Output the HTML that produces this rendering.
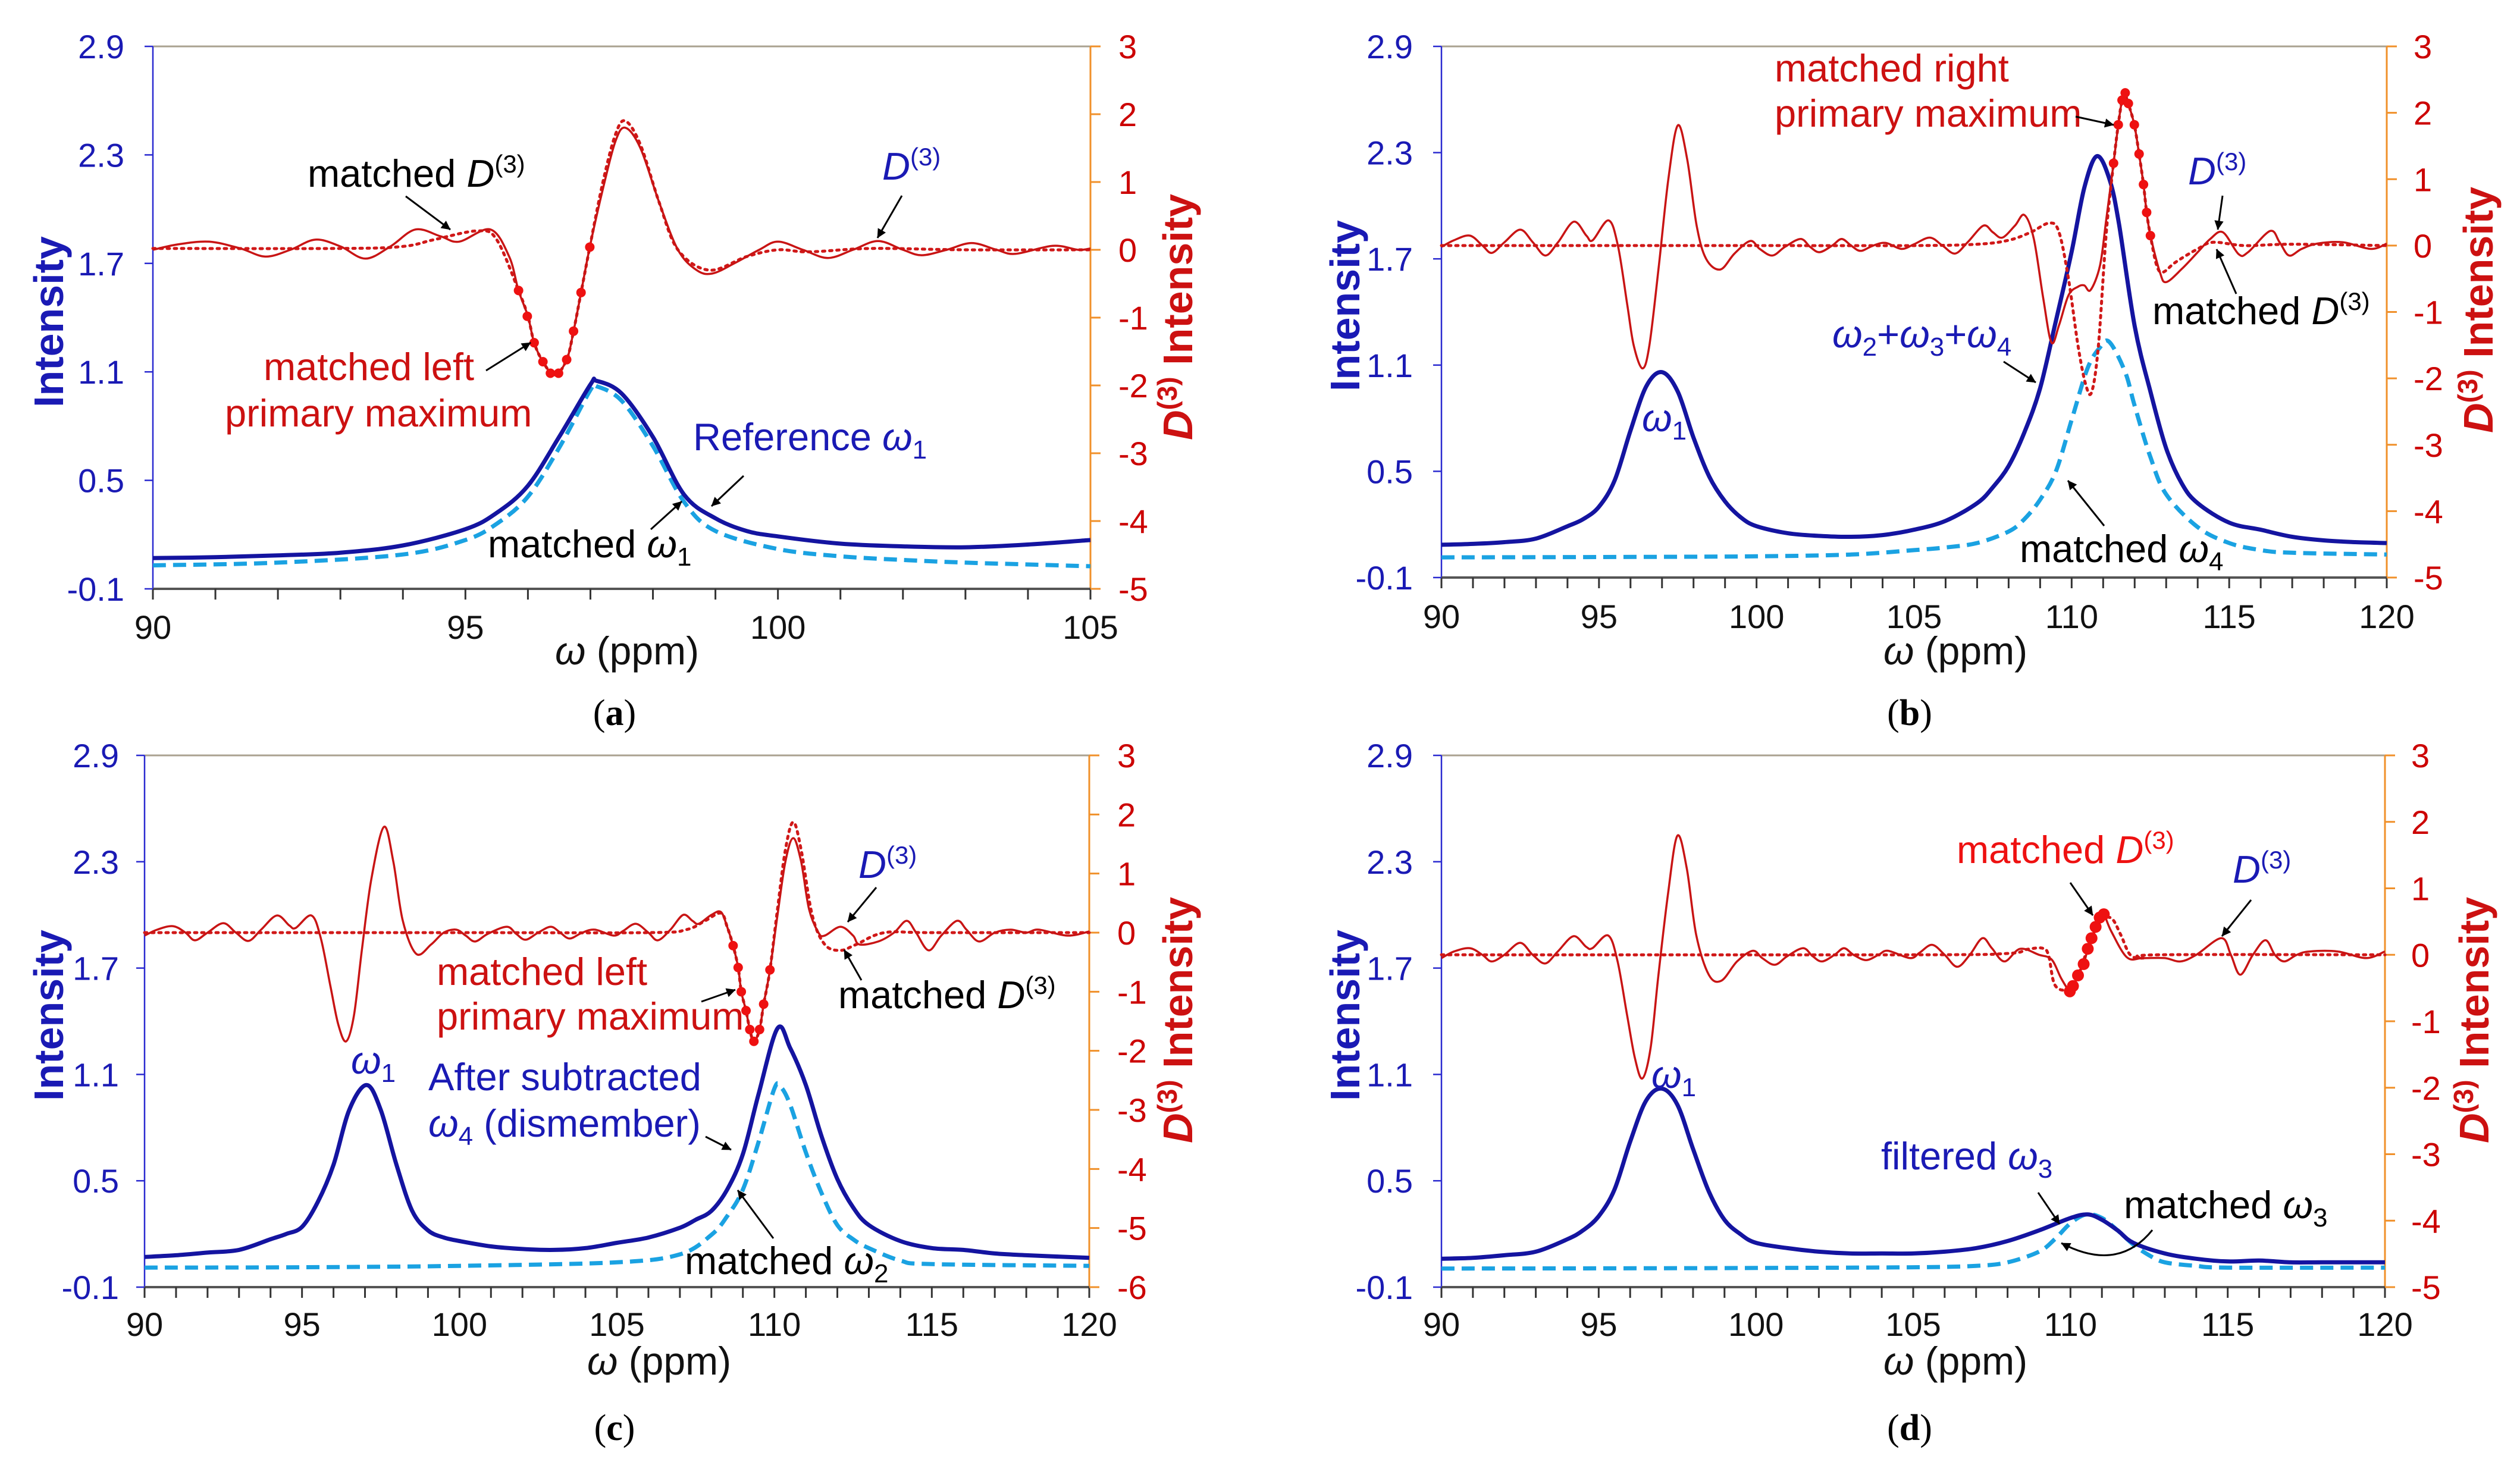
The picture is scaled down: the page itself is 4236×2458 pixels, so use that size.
<!DOCTYPE html>
<html><head><meta charset="utf-8">
<style>
html,body{margin:0;padding:0;background:#fff;}
svg{display:block;font-family:"Liberation Sans",Arial,sans-serif;}
</style></head>
<body>
<svg id="fig" xmlns="http://www.w3.org/2000/svg" width="4236" height="2458" viewBox="0 0 4236 2458">
<defs>
<marker id="arr" viewBox="0 0 10 10" refX="9" refY="5" markerWidth="7" markerHeight="7" orient="auto" markerUnits="userSpaceOnUse" style="overflow:visible">
<path d="M0,0 L10,5 L0,10 z" transform="scale(2.2) translate(-5.5,-2.7)" fill="#000"/>
</marker>
</defs>
<rect width="4236" height="2458" fill="#fff"/>
<g id="layer"></g>

<!-- Panel a annotations -->
<g font-size="65">
<text x="517" y="314" fill="#000">matched <tspan font-style="italic">D</tspan><tspan dy="-24" font-size="42">(3)</tspan></text>
<line x1="682" y1="330" x2="757" y2="386" stroke="#000" stroke-width="3" marker-end="url(#arr)"/>
<text x="1483" y="302" fill="#1a1ab4"><tspan font-style="italic">D</tspan><tspan dy="-24" font-size="42">(3)</tspan></text>
<line x1="1516" y1="329" x2="1475" y2="400" stroke="#000" stroke-width="3" marker-end="url(#arr)"/>
<text x="443" y="639" fill="#cc1111">matched left</text>
<text x="378" y="717" fill="#cc1111">primary maximum</text>
<line x1="817" y1="623" x2="892" y2="576" stroke="#000" stroke-width="3" marker-end="url(#arr)"/>
<text x="1165" y="757" fill="#1a1ab4">Reference <tspan font-style="italic">ω</tspan><tspan dy="14" font-size="44">1</tspan></text>
<line x1="1250" y1="800" x2="1196" y2="851" stroke="#000" stroke-width="3" marker-end="url(#arr)"/>
<text x="820" y="937" fill="#000">matched <tspan font-style="italic">ω</tspan><tspan dy="14" font-size="44">1</tspan></text>
<line x1="1094" y1="890" x2="1146" y2="843" stroke="#000" stroke-width="3" marker-end="url(#arr)"/>
</g>

<!-- Panel b annotations -->
<g font-size="65">
<text x="2983" y="137" fill="#cc1111">matched right</text>
<text x="2983" y="213" fill="#cc1111">primary maximum</text>
<line x1="3489" y1="196" x2="3553" y2="210" stroke="#000" stroke-width="3" marker-end="url(#arr)"/>
<text x="3678" y="310" fill="#1a1ab4"><tspan font-style="italic">D</tspan><tspan dy="-24" font-size="42">(3)</tspan></text>
<line x1="3736" y1="329" x2="3728" y2="386" stroke="#000" stroke-width="3" marker-end="url(#arr)"/>
<text x="3618" y="545" fill="#000">matched <tspan font-style="italic">D</tspan><tspan dy="-24" font-size="42">(3)</tspan></text>
<line x1="3759" y1="494" x2="3726" y2="419" stroke="#000" stroke-width="3" marker-end="url(#arr)"/>
<text x="3080" y="584" fill="#1a1ab4" font-style="italic">ω<tspan dy="14" font-size="44" font-style="normal">2</tspan><tspan dy="-14" font-style="normal">+</tspan>ω<tspan dy="14" font-size="44" font-style="normal">3</tspan><tspan dy="-14" font-style="normal">+</tspan>ω<tspan dy="14" font-size="44" font-style="normal">4</tspan></text>
<line x1="3368" y1="608" x2="3422" y2="643" stroke="#000" stroke-width="3" marker-end="url(#arr)"/>
<text x="2760" y="725" fill="#1a1ab4"><tspan font-style="italic">ω</tspan><tspan dy="14" font-size="44">1</tspan></text>
<text x="3395" y="945" fill="#000">matched <tspan font-style="italic">ω</tspan><tspan dy="14" font-size="44">4</tspan></text>
<line x1="3537" y1="884" x2="3476" y2="808" stroke="#000" stroke-width="3" marker-end="url(#arr)"/>
</g>

<!-- Panel c annotations -->
<g font-size="65">
<text x="590" y="1805" fill="#1a1ab4"><tspan font-style="italic">ω</tspan><tspan dy="14" font-size="44">1</tspan></text>
<text x="720" y="1833" fill="#1a1ab4">After subtracted</text>
<text x="720" y="1911" fill="#1a1ab4"><tspan font-style="italic">ω</tspan><tspan dy="14" font-size="44">4</tspan><tspan dy="-14"> (dismember)</tspan></text>
<line x1="1186" y1="1911" x2="1229" y2="1933" stroke="#000" stroke-width="3" marker-end="url(#arr)"/>
<text x="734" y="1656" fill="#cc1111">matched left</text>
<text x="734" y="1731" fill="#cc1111">primary maximum</text>
<line x1="1179" y1="1684" x2="1236" y2="1664" stroke="#000" stroke-width="3" marker-end="url(#arr)"/>
<text x="1443" y="1476" fill="#1a1ab4"><tspan font-style="italic">D</tspan><tspan dy="-24" font-size="42">(3)</tspan></text>
<line x1="1473" y1="1492" x2="1425" y2="1550" stroke="#000" stroke-width="3" marker-end="url(#arr)"/>
<text x="1409" y="1695" fill="#000">matched <tspan font-style="italic">D</tspan><tspan dy="-24" font-size="42">(3)</tspan></text>
<line x1="1448" y1="1648" x2="1419" y2="1597" stroke="#000" stroke-width="3" marker-end="url(#arr)"/>
<text x="1151" y="2142" fill="#000">matched <tspan font-style="italic">ω</tspan><tspan dy="14" font-size="44">2</tspan></text>
<line x1="1300" y1="2082" x2="1240" y2="2001" stroke="#000" stroke-width="3" marker-end="url(#arr)"/>
</g>

<!-- Panel d annotations -->
<g font-size="65">
<text x="3289" y="1451" fill="#ee1111">matched <tspan font-style="italic">D</tspan><tspan dy="-24" font-size="42">(3)</tspan></text>
<line x1="3480" y1="1484" x2="3518" y2="1539" stroke="#000" stroke-width="3" marker-end="url(#arr)"/>
<text x="3753" y="1484" fill="#1a1ab4"><tspan font-style="italic">D</tspan><tspan dy="-24" font-size="42">(3)</tspan></text>
<line x1="3784" y1="1513" x2="3735" y2="1574" stroke="#000" stroke-width="3" marker-end="url(#arr)"/>
<text x="2776" y="1829" fill="#1a1ab4"><tspan font-style="italic">ω</tspan><tspan dy="14" font-size="44">1</tspan></text>
<text x="3162" y="1966" fill="#1a1ab4">filtered <tspan font-style="italic">ω</tspan><tspan dy="14" font-size="44">3</tspan></text>
<line x1="3426" y1="2005" x2="3462" y2="2058" stroke="#000" stroke-width="3" marker-end="url(#arr)"/>
<text x="3570" y="2048" fill="#000">matched <tspan font-style="italic">ω</tspan><tspan dy="14" font-size="44">3</tspan></text>
<path d="M3618,2068 Q3560,2140 3465,2090" fill="none" stroke="#000" stroke-width="3" marker-end="url(#arr)"/>
</g>
</svg>

<script>
// ---------- DATA (ppm, value) ----------
const xTicksA = [90, 95, 100, 105];
const xTicksBCD = [90, 95, 100, 105, 110, 115, 120];
const leftTicks = [-0.1, 0.5, 1.1, 1.7, 2.3, 2.9];
const rightTicksABD = [3, 2, 1, 0, -1, -2, -3, -4, -5];
const rightTicksC = [3, 2, 1, 0, -1, -2, -3, -4, -5, -6];

// Panel a
const aBlue = [[90,0.07],[91,0.075],[92,0.085],[93,0.1],[94,0.14],[95,0.23],[95.5,0.32],[96,0.47],[96.5,0.74],[97,1.03],[97.1,1.05],[97.5,0.98],[98,0.74],[98.5,0.42],[99,0.29],[99.5,0.22],[100,0.19],[101,0.15],[102,0.135],[103,0.13],[104,0.145],[105,0.17]];
const aCyan = [[90,0.03],[92,0.045],[94,0.09],[95,0.17],[95.5,0.26],[96,0.41],[96.5,0.68],[97,1.0],[97.1,1.02],[97.5,0.94],[98,0.69],[98.5,0.38],[99,0.22],[100,0.12],[101,0.08],[102,0.06],[103,0.045],[104,0.035],[105,0.025]];
const aRed = [[90,0],[90.4,0.08],[90.9,0.12],[91.4,0.02],[91.8,-0.1],[92.2,0.0],[92.6,0.15],[93.0,0.05],[93.4,-0.13],[93.8,0.05],[94.2,0.3],[94.6,0.2],[94.9,0.12],[95.4,0.3],[95.7,-0.1],[95.85,-0.6],[96.0,-0.98],[96.1,-1.37],[96.24,-1.65],[96.43,-1.85],[96.62,-1.62],[96.73,-1.2],[96.85,-0.63],[96.99,0.04],[97.2,0.9],[97.4,1.6],[97.56,1.8],[97.8,1.5],[98.1,0.7],[98.4,0.0],[98.7,-0.3],[98.95,-0.35],[99.3,-0.2],[99.7,0.0],[100.0,0.12],[100.4,0.0],[100.8,-0.12],[101.2,0.0],[101.6,0.13],[102.0,0.0],[102.3,-0.08],[102.7,0.0],[103.1,0.1],[103.5,0.0],[103.8,-0.06],[104.4,0.06],[104.8,0.0],[105,0.02]];
const aDotted = [[90,0.02],[93,0.02],[94,0.05],[94.5,0.15],[95.2,0.28],[95.5,0.15],[95.85,-0.6],[96.0,-0.98],[96.1,-1.37],[96.24,-1.65],[96.43,-1.85],[96.62,-1.62],[96.73,-1.2],[96.85,-0.63],[96.99,0.04],[97.2,1.0],[97.4,1.7],[97.56,1.9],[97.8,1.55],[98.1,0.7],[98.4,0.0],[98.9,-0.3],[99.5,-0.1],[100,0.0],[100.5,-0.03],[101.5,0.02],[103,0],[105,0]];
const aDots = [[95.85,-0.6],[95.99,-0.98],[96.1,-1.37],[96.24,-1.65],[96.36,-1.82],[96.49,-1.82],[96.62,-1.62],[96.73,-1.2],[96.85,-0.63],[96.99,0.04]];

// Panel b
const bBlue = [[90,0.085],[91,0.09],[92,0.1],[93,0.12],[94,0.19],[94.5,0.23],[95,0.3],[95.5,0.45],[96,0.73],[96.5,0.98],[97,1.06],[97.5,0.95],[98,0.69],[98.5,0.47],[99,0.33],[99.5,0.24],[100,0.19],[101,0.15],[102,0.135],[103,0.13],[104,0.14],[105,0.17],[106,0.22],[107,0.32],[107.5,0.41],[108,0.53],[108.5,0.72],[109,0.97],[109.5,1.35],[110,1.74],[110.4,2.1],[110.8,2.28],[111.2,2.15],[111.5,1.9],[112,1.32],[112.5,0.95],[113,0.63],[113.5,0.43],[114,0.32],[115,0.21],[116,0.17],[117,0.13],[118,0.11],[119,0.1],[120,0.095]];
const bCyan = [[90,0.014],[95,0.016],[100,0.02],[103,0.03],[105,0.055],[106,0.07],[107,0.095],[108,0.16],[108.5,0.23],[109,0.34],[109.5,0.5],[110,0.79],[110.5,1.08],[110.9,1.2],[111.2,1.23],[111.7,1.06],[112,0.87],[112.5,0.58],[113,0.37],[114,0.185],[115,0.095],[116,0.055],[117,0.04],[120,0.03]];
const bRed = [[90,-0.02],[90.4,0.08],[90.9,0.15],[91.3,0.0],[91.6,-0.11],[92.0,0.05],[92.5,0.24],[92.9,0.05],[93.3,-0.15],[93.7,0.05],[94.2,0.36],[94.6,0.15],[94.8,0.08],[95.3,0.38],[95.6,0.0],[95.9,-0.9],[96.1,-1.5],[96.38,-1.85],[96.6,-1.5],[96.9,-0.3],[97.2,1.0],[97.5,1.81],[97.8,1.3],[98.1,0.3],[98.4,-0.2],[98.85,-0.36],[99.3,-0.12],[99.8,0.07],[100.1,-0.05],[100.5,-0.15],[100.9,-0.02],[101.4,0.1],[101.7,-0.02],[102.0,-0.1],[102.4,0.0],[102.7,0.1],[103.0,0.0],[103.3,-0.08],[103.7,0.0],[104.1,0.04],[104.6,-0.05],[105.0,0.02],[105.5,0.12],[105.9,0.0],[106.3,-0.12],[106.7,0.05],[107.2,0.3],[107.5,0.2],[107.8,0.12],[108.2,0.3],[108.5,0.46],[108.8,0.1],[109.1,-0.8],[109.36,-1.46],[109.6,-1.2],[109.9,-0.75],[110.2,-0.62],[110.4,-0.6],[110.6,-0.67],[110.9,-0.3],[111.1,0.4],[111.33,1.24],[111.48,1.82],[111.6,2.19],[111.7,2.3],[111.8,2.14],[111.99,1.82],[112.14,1.38],[112.28,0.92],[112.38,0.5],[112.5,0.15],[112.8,-0.4],[113,-0.55],[113.5,-0.35],[114,-0.1],[114.4,0.1],[114.8,0.2],[115.3,-0.13],[115.6,-0.1],[116.3,0.22],[116.6,0.05],[116.9,-0.15],[117.3,-0.05],[117.8,0.03],[118.6,0.05],[119.5,-0.05],[120,0.03]];
const bDotted = [[90,0.0],[95,0.0],[100,0.0],[105,0.0],[107,0.02],[108,0.08],[108.7,0.2],[109.3,0.34],[109.6,0.2],[109.9,-0.5],[110.2,-1.5],[110.45,-2.1],[110.64,-2.2],[110.85,-1.5],[111.1,0.2],[111.33,1.24],[111.48,1.82],[111.6,2.19],[111.7,2.3],[111.8,2.14],[111.99,1.82],[112.14,1.38],[112.28,0.92],[112.38,0.5],[112.5,0.15],[112.7,-0.3],[112.9,-0.4],[113.3,-0.25],[114,-0.05],[114.5,0.05],[115.5,0.0],[117,0.02],[120,0.0]];
const bDots = [[111.33,1.24],[111.48,1.82],[111.6,2.19],[111.7,2.3],[111.8,2.14],[111.99,1.82],[112.14,1.38],[112.28,0.92],[112.38,0.5],[112.5,0.15]];

// Panel c
const cBlue = [[90,0.07],[91,0.08],[92,0.095],[93,0.11],[94,0.17],[94.5,0.2],[95,0.24],[95.5,0.38],[96,0.59],[96.5,0.9],[97.05,1.04],[97.5,0.9],[98,0.59],[98.5,0.33],[99,0.22],[99.5,0.18],[100,0.16],[101,0.13],[102,0.115],[103,0.11],[104,0.12],[105,0.15],[106,0.18],[107,0.235],[107.5,0.28],[108,0.33],[108.5,0.45],[109,0.65],[109.5,0.99],[110.1,1.36],[110.5,1.25],[111,1.04],[111.5,0.75],[112,0.51],[112.5,0.35],[113,0.25],[114,0.16],[115,0.12],[116,0.11],[117,0.09],[118,0.08],[120,0.065]];
const cCyan = [[90,0.01],[95,0.012],[100,0.02],[105,0.04],[107,0.085],[108,0.195],[108.5,0.3],[109,0.45],[109.5,0.72],[110,1.02],[110.2,1.03],[110.5,0.93],[111,0.66],[111.5,0.43],[112,0.25],[112.5,0.17],[113,0.12],[114,0.05],[115,0.03],[120,0.02]];
const cRed = [[90,-0.05],[90.4,0.05],[90.9,0.11],[91.3,0.0],[91.6,-0.13],[92.0,0.0],[92.5,0.16],[92.9,0.0],[93.3,-0.14],[93.7,0.05],[94.2,0.29],[94.6,0.12],[94.8,0.08],[95.3,0.29],[95.6,-0.1],[95.9,-0.9],[96.15,-1.55],[96.4,-1.84],[96.65,-1.4],[96.9,-0.3],[97.2,0.9],[97.6,1.79],[97.9,1.2],[98.2,0.2],[98.63,-0.36],[99.1,-0.2],[99.5,0.0],[99.9,0.05],[100.2,-0.05],[100.5,-0.15],[100.9,-0.02],[101.5,0.1],[101.8,-0.02],[102.1,-0.12],[102.5,0.0],[102.9,0.1],[103.2,0.0],[103.5,-0.1],[103.9,0.0],[104.3,0.05],[104.9,-0.05],[105.2,0.03],[105.6,0.15],[106.0,0.0],[106.3,-0.13],[106.7,0.05],[107.1,0.3],[107.4,0.2],[107.6,0.15],[108.0,0.3],[108.3,0.35],[108.5,0.1],[108.69,-0.22],[108.85,-0.59],[108.95,-1.0],[109.1,-1.32],[109.22,-1.64],[109.35,-1.84],[109.53,-1.64],[109.66,-1.21],[109.86,-0.63],[110.1,0.3],[110.35,1.2],[110.6,1.6],[110.85,1.2],[111.1,0.4],[111.4,0.0],[111.6,-0.05],[112.1,0.1],[112.5,-0.05],[112.7,-0.2],[113.3,-0.15],[113.8,0.0],[114.2,0.2],[114.5,0.0],[114.9,-0.3],[115.3,-0.05],[115.8,0.2],[116.1,0.05],[116.5,-0.15],[117.0,0.0],[117.5,0.05],[118.0,0.0],[118.4,0.05],[119.3,-0.05],[120,0.02]];
const cDotted = [[90,0.0],[100,0.0],[106,0.0],[107.2,0.05],[107.8,0.2],[108.3,0.33],[108.5,0.1],[108.69,-0.22],[108.85,-0.59],[108.95,-1.0],[109.1,-1.32],[109.22,-1.64],[109.35,-1.84],[109.53,-1.64],[109.66,-1.21],[109.86,-0.63],[110.1,0.4],[110.35,1.4],[110.6,1.87],[110.85,1.4],[111.2,0.3],[111.6,-0.2],[112.1,-0.3],[112.6,-0.2],[113.5,0.0],[115,0.0],[120,0.0]];
const cDots = [[108.69,-0.22],[108.85,-0.59],[108.95,-1.0],[109.1,-1.32],[109.22,-1.64],[109.35,-1.84],[109.53,-1.64],[109.66,-1.21],[109.86,-0.63]];

// Panel d
const dBlue = [[90,0.06],[91,0.065],[92,0.08],[93,0.1],[94,0.17],[94.5,0.22],[95,0.3],[95.5,0.45],[96,0.72],[96.5,0.95],[97,1.02],[97.5,0.93],[98,0.68],[98.5,0.44],[99,0.28],[99.5,0.2],[100,0.15],[101,0.12],[102,0.1],[103,0.09],[104,0.09],[105,0.09],[106,0.1],[107,0.12],[108,0.16],[109,0.22],[110,0.29],[110.55,0.31],[111,0.28],[111.5,0.22],[112,0.15],[113,0.09],[114,0.06],[115,0.045],[116,0.05],[117,0.04],[118,0.04],[120,0.04]];
const dCyan = [[90,0.005],[95,0.006],[100,0.008],[105,0.012],[107,0.02],[108,0.04],[109,0.1],[109.5,0.17],[110,0.26],[110.5,0.31],[111,0.29],[111.5,0.22],[112,0.14],[112.5,0.08],[113,0.04],[114,0.02],[115,0.01],[120,0.01]];
const dRed = [[90,-0.05],[90.4,0.05],[90.9,0.1],[91.3,0.0],[91.6,-0.1],[92.0,0.0],[92.5,0.18],[92.9,0.0],[93.3,-0.13],[93.7,0.05],[94.2,0.28],[94.6,0.12],[94.8,0.1],[95.3,0.29],[95.6,-0.1],[95.9,-0.9],[96.15,-1.55],[96.39,-1.86],[96.65,-1.4],[96.9,-0.3],[97.2,0.9],[97.5,1.79],[97.8,1.3],[98.1,0.3],[98.5,-0.3],[98.9,-0.39],[99.4,-0.1],[99.9,0.06],[100.2,-0.05],[100.6,-0.15],[101.0,-0.02],[101.5,0.1],[101.8,-0.02],[102.1,-0.1],[102.5,0.0],[102.8,0.1],[103.1,0.0],[103.5,-0.08],[103.9,0.0],[104.2,0.06],[104.9,-0.05],[105.2,0.03],[105.6,0.15],[106.0,0.0],[106.4,-0.18],[106.8,0.0],[107.2,0.25],[107.5,0.1],[107.9,-0.1],[108.4,0.09],[109.0,0.0],[109.4,-0.07],[109.7,-0.35],[109.98,-0.55],[110.1,-0.47],[110.24,-0.31],[110.42,-0.14],[110.55,0.09],[110.67,0.25],[110.8,0.42],[110.93,0.56],[111.06,0.61],[111.3,0.35],[111.8,-0.04],[112.3,-0.05],[113,-0.05],[113.5,-0.1],[114.0,0.0],[114.8,0.25],[115.1,0.0],[115.4,-0.3],[115.8,0.0],[116.2,0.22],[116.5,0.0],[116.8,-0.1],[117.2,0.0],[117.6,0.05],[118.5,0.05],[119.4,-0.05],[120,0.05]];
const dDotted = [[90,0.0],[105,0.0],[108,0.02],[108.6,0.08],[109.1,0.1],[109.3,0.0],[109.5,-0.45],[109.9,-0.52],[110.24,-0.31],[110.55,0.09],[110.93,0.5],[111.3,0.55],[111.6,0.3],[111.9,0.0],[112.3,-0.05],[112.8,0.0],[120,0.0]];
const dDots = [[109.98,-0.55],[110.08,-0.47],[110.24,-0.31],[110.42,-0.14],[110.55,0.09],[110.67,0.25],[110.8,0.42],[110.93,0.56],[111.06,0.61]];

// ---------- RENDER ----------
const NS = 'http://www.w3.org/2000/svg';
const layer = document.getElementById('layer');
function mk(tag, attrs, parent) {
  const e = document.createElementNS(NS, tag);
  for (const k in attrs) e.setAttribute(k, attrs[k]);
  (parent || layer).appendChild(e);
  return e;
}
function smoothPath(pts) {
  let d = 'M' + pts[0][0].toFixed(1) + ',' + pts[0][1].toFixed(1);
  for (let i = 0; i < pts.length - 1; i++) {
    const p0 = pts[Math.max(0, i - 1)], p1 = pts[i], p2 = pts[i + 1], p3 = pts[Math.min(pts.length - 1, i + 2)];
    const c1x = p1[0] + (p2[0] - p0[0]) / 6, c1y = p1[1] + (p2[1] - p0[1]) / 6;
    const c2x = p2[0] - (p3[0] - p1[0]) / 6, c2y = p2[1] - (p3[1] - p1[1]) / 6;
    d += 'C' + c1x.toFixed(1) + ',' + c1y.toFixed(1) + ' ' + c2x.toFixed(1) + ',' + c2y.toFixed(1) + ' ' + p2[0].toFixed(1) + ',' + p2[1].toFixed(1);
  }
  return d;
}

const panels = [
  {id:'a', L:257, R:1833, T:78, B:990, xmin:90, xmax:105, rmin:-5, rmax:3, xt:xTicksA, rt:rightTicksABD, lblR:209, rlblX:1880, ltX:81, ltY:541, rtX:1979, rtY:533, xlY:1074, xtitleX:1054, xtitleY:1117, capX:1033, capY:1219, cap:'a',
   blue:aBlue, cyan:aCyan, red:aRed, dotted:aDotted, dots:aDots},
  {id:'b', L:2423, R:4012, T:78, B:971, xmin:90, xmax:120, rmin:-5, rmax:3, xt:xTicksBCD, rt:rightTicksABD, lblR:2375, rlblX:4057, ltX:2260, ltY:514, rtX:4165, rtY:521, xlY:1056, xtitleX:3287, xtitleY:1117, capX:3210, capY:1219, cap:'b',
   blue:bBlue, cyan:bCyan, red:bRed, dotted:bDotted, dots:bDots},
  {id:'c', L:243, R:1831, T:1270, B:2164, xmin:90, xmax:120, rmin:-6, rmax:3, xt:xTicksBCD, rt:rightTicksC, lblR:200, rlblX:1878, ltX:81, ltY:1707, rtX:1979, rtY:1715, xlY:2246, xtitleX:1108, xtitleY:2311, capX:1033, capY:2421, cap:'c',
   blue:cBlue, cyan:cCyan, red:cRed, dotted:cDotted, dots:cDots},
  {id:'d', L:2423, R:4009, T:1270, B:2164, xmin:90, xmax:120, rmin:-5, rmax:3, xt:xTicksBCD, rt:rightTicksABD, lblR:2375, rlblX:4053, ltX:2260, ltY:1707, rtX:4158, rtY:1715, xlY:2246, xtitleX:3287, xtitleY:2311, capX:3210, capY:2421, cap:'d',
   blue:dBlue, cyan:dCyan, red:dRed, dotted:dDotted, dots:dDots}
];

const BLUE_TXT = '#1a1ab4', RED_TXT = '#cc0000';

panels.forEach(p => {
  const g = mk('g', {});
  
  
  const sx = v => p.L + (v - p.xmin) / (p.xmax - p.xmin) * (p.R - p.L);
  const sy = v => p.B - (v - (-0.1)) / 3.0 * (p.B - p.T);
  const sr = v => p.B - (v - p.rmin) / (p.rmax - p.rmin) * (p.B - p.T);

  // frame
  const top = mk('line', {x1:p.L, y1:p.T, x2:p.R, y2:p.T, stroke:'#aaa290', 'stroke-width':3}, g);
  
  
  const la = mk('line', {x1:p.L, y1:p.T, x2:p.L, y2:p.B, stroke:'#2a2ad0', 'stroke-width':2.5}, g);
  
  
  const ra = mk('line', {x1:p.R, y1:p.T, x2:p.R, y2:p.B, stroke:'#f0902a', 'stroke-width':3}, g);
  
  
  const xa = mk('line', {x1:p.L, y1:p.B, x2:p.R, y2:p.B, stroke:'#555', 'stroke-width':4}, g);
  
  

  // x minor ticks every 1 ppm
  for (let v = p.xmin; v <= p.xmax; v++) {
    const t = mk('line', {x1:sx(v), y1:p.B, x2:sx(v), y2:p.B + 18, stroke:'#333', 'stroke-width':3}, g);
    
    
  }
  p.xt.forEach(v => {
    const t = mk('text', {x:sx(v), y:p.xlY, 'font-size':56, 'text-anchor':'middle', fill:'#111'}, g);
    t.textContent = v;
    
    
  });
  leftTicks.forEach(v => {
    const tk = mk('line', {x1:p.L - 14, y1:sy(v), x2:p.L, y2:sy(v), stroke:'#2a2ad0', 'stroke-width':2.5}, g);
    
    
    const t = mk('text', {x:p.lblR, y:sy(v) + 20, 'font-size':56, 'text-anchor':'end', fill:BLUE_TXT}, g);
    t.textContent = v.toFixed(1);
    
    
  });
  p.rt.forEach(v => {
    const tk = mk('line', {x1:p.R, y1:sr(v), x2:p.R + 17, y2:sr(v), stroke:'#f0902a', 'stroke-width':3}, g);
    
    
    const t = mk('text', {x:p.rlblX, y:sr(v) + 20, 'font-size':56, fill:RED_TXT}, g);
    t.textContent = v;
    
    
  });

  // titles
  const lt = mk('text', {transform:'translate(' + (p.ltX + 25) + ',' + p.ltY + ') rotate(-90)', 'font-size':70, 'font-weight':'bold', 'text-anchor':'middle', fill:'#1a1ab4'}, g);
  lt.textContent = 'Intensity';
  
  
  const rt = mk('text', {transform:'translate(' + (p.rtX + 25) + ',' + p.rtY + ') rotate(-90)', 'font-size':70, 'font-weight':'bold', 'text-anchor':'middle', fill:'#cc1111'}, g);
  rt.innerHTML = '<tspan font-style="italic">D</tspan><tspan dy="-26" font-size="46">(3)</tspan><tspan dy="26"> Intensity</tspan>';
  
  
  const xt = mk('text', {x:p.xtitleX, y:p.xtitleY, 'font-size':66, 'text-anchor':'middle', fill:'#111'}, g);
  xt.innerHTML = '<tspan font-style="italic">ω</tspan> (ppm)';
  
  
  const cp = mk('text', {x:p.capX, y:p.capY, 'font-size':62, 'text-anchor':'middle', fill:'#000', 'font-family':'"Liberation Serif", serif'}, g);
  cp.innerHTML = '(<tspan font-weight="bold">' + p.cap + '</tspan>)';
  
  

  // series
  const cyan = mk('path', {d:smoothPath(p.cyan.map(q => [sx(q[0]), sy(q[1])])), fill:'none', stroke:'#1aa2e2', 'stroke-width':7, 'stroke-dasharray':'22,12'}, g);
  
  
  const blue = mk('path', {d:smoothPath(p.blue.map(q => [sx(q[0]), sy(q[1])])), fill:'none', stroke:'#1414a0', 'stroke-width':7}, g);
  
  
  const dot = mk('path', {d:smoothPath(p.dotted.map(q => [sx(q[0]), sr(q[1])])), fill:'none', stroke:'#d01818', 'stroke-width':5, 'stroke-dasharray':'4,8', 'stroke-linecap':'round'}, g);
  
  
  const red = mk('path', {d:smoothPath(p.red.map(q => [sx(q[0]), sr(q[1])])), fill:'none', stroke:'#c81414', 'stroke-width':3.5}, g);
  
  
  p.dots.forEach(q => {
    const c = mk('circle', {cx:sx(q[0]), cy:sr(q[1]), r:(p.id === 'd' ? 10 : 8), fill:'#ee1111'}, g);
    
    
  });
});
</script>
</body></html>
